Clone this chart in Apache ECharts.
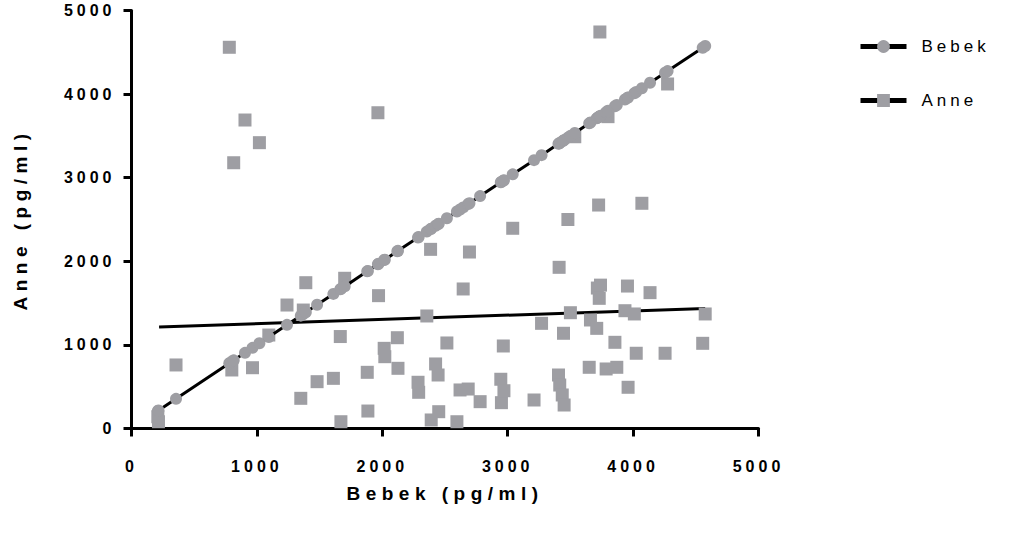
<!DOCTYPE html>
<html>
<head>
<meta charset="utf-8">
<script src="https://cdn.jsdelivr.net/npm/echarts@6/dist/echarts.min.js"></script>
<style>
  html, body { margin: 0; padding: 0; background: #fff; }
  #chart { width: 1025px; height: 536px; }
  /* spaced-out lettering like the original figure */
  #chart text[style*="16px"] { letter-spacing: 4px; }
  #chart text[style*="19px"] { letter-spacing: 5.5px; }
  #chart text[style*="17px"] { letter-spacing: 4px; }
</style>
</head>
<body>
<div id="chart"></div>
<script>
  // paired measurements, one entry per subject (pg/ml)
  const bebek = [210, 215, 355, 780, 800, 815, 905, 965, 1020, 1095, 1240, 1350, 1370, 1390, 1480, 1610,
    1665, 1670, 1700, 1880, 1885, 1965, 1970, 2015, 2020, 2120, 2125, 2285, 2290, 2355, 2385, 2390,
    2425, 2445, 2450, 2515, 2595, 2620, 2645, 2685, 2695, 2780, 2945, 2950, 2965, 2970, 3040, 3210,
    3270, 3405, 3410, 3415, 3435, 3445, 3450, 3480, 3500, 3535, 3650, 3660, 3710, 3715, 3725, 3730,
    3735, 3740, 3785, 3800, 3855, 3870, 3935, 3955, 3960, 4010, 4025, 4070, 4135, 4255, 4275, 4555, 4575];
  const anne = [141, 81, 760, 4560, 700, 3179, 3690, 727, 3419, 1118, 1477, 361, 1417, 1744, 560, 600,
    1100, 81, 1797, 672, 209, 3777, 1589, 959, 859, 1086, 720, 553, 433, 1346, 2143, 102,
    772, 640, 201, 1023, 81, 461, 1669, 472, 2111, 321, 589, 309, 987, 452, 2395, 341,
    1258, 640, 1928, 520, 401, 1139, 281, 2500, 1385, 3490, 732, 1298, 1198, 1680, 2673, 1557,
    4743, 1715, 712, 3730, 1031, 732, 1409, 1704, 493, 1370, 900, 2694, 1625, 900, 4121, 1019, 1370];

  // fitted line for Anne, end points
  const anneFitX = [220, 4575];
  const anneFitY = [1215, 1435];

  const axisTicks = [0, 1000, 2000, 3000, 4000, 5000];

  const GREY = "#9e9ea3";
  const FONT = "Liberation Sans, Arial, sans-serif";

  const chart = echarts.init(document.getElementById("chart"), null, { renderer: "svg" });

  const bebekData = bebek.map((v) => [v, v]).sort((a, b) => a[0] - b[0]);
  const anneData = bebek.map((v, i) => [v, anne[i]]);
  const fitData = anneFitX.map((x, i) => [x, anneFitY[i]]);

  function axis(name, gap) {
    return {
      type: "value",
      min: axisTicks[0],
      max: axisTicks[axisTicks.length - 1],
      interval: axisTicks[1] - axisTicks[0],
      name: name,
      nameLocation: "middle",
      nameGap: gap,
      nameTextStyle: { fontFamily: FONT, fontWeight: "bold", fontSize: 19, color: "#000" },
      axisLine: { show: true, lineStyle: { color: "#000", width: 3 } },
      axisTick: { show: true, inside: false, length: 8, lineStyle: { color: "#000", width: 3 } },
      axisLabel: {
        fontFamily: FONT, fontWeight: "bold", fontSize: 16, color: "#000",
        formatter: (v) => String(v),
      },
      splitLine: { show: false },
    };
  }

  const xAxis = axis("Bebek (pg/ml)", 55);
  xAxis.axisLabel.margin = 30;
  const yAxis = axis("Anne (pg/ml)", 102);
  yAxis.axisLabel.margin = 16;

  chart.setOption({
    animation: false,
    backgroundColor: "#fff",
    grid: { left: 131.5, right: 266.5, top: 10.5, bottom: 107.5, containLabel: false },
    xAxis: xAxis,
    yAxis: yAxis,
    legend: {
      orient: "vertical",
      left: 853,
      top: 33,
      itemWidth: 46,
      itemHeight: 16,
      itemGap: 37,
      textStyle: { fontFamily: FONT, fontSize: 17, color: "#000", padding: [0, 0, 0, 10] },
      data: [
        { name: "Bebek", lineStyle: { color: "#000", width: 5 } },
        { name: "Anne", lineStyle: { color: "#000", width: 5, opacity: 1 } },
      ],
    },
    series: [
      {
        name: "Anne fit",
        type: "line",
        data: fitData,
        symbol: "none",
        lineStyle: { color: "#000", width: 3 },
        z: 1,
      },
      {
        name: "Anne",
        type: "line",
        data: anneData,
        symbol: "rect",
        symbolSize: 13,
        itemStyle: { color: GREY },
        lineStyle: { color: "#000", width: 3, opacity: 0 },
        z: 2,
      },
      {
        name: "Bebek",
        type: "line",
        data: bebekData,
        symbol: "circle",
        symbolSize: 12,
        itemStyle: { color: GREY },
        lineStyle: { color: "#000", width: 3 },
        z: 3,
      },
    ],
  });
</script>
</body>
</html>
